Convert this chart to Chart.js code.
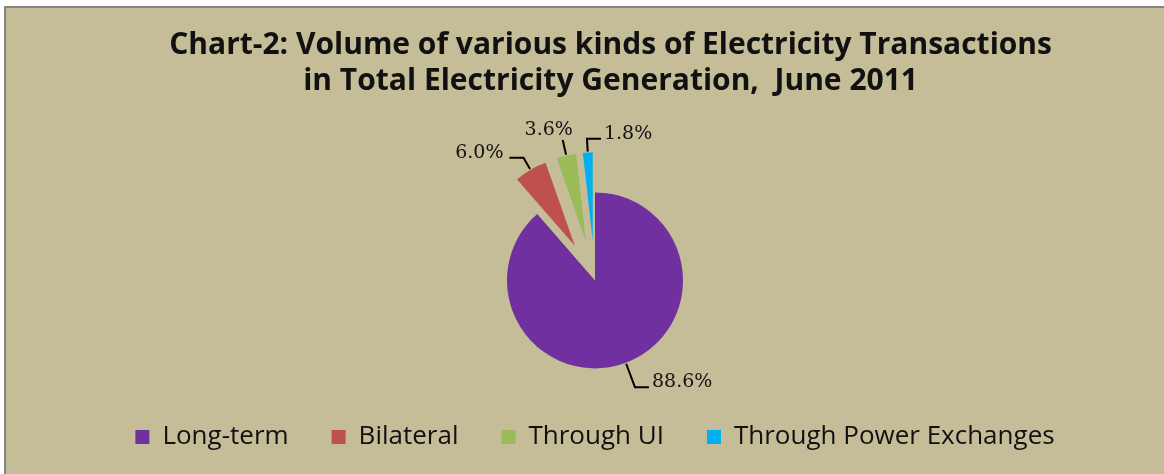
<!DOCTYPE html>
<html>
<head>
<meta charset="utf-8">
<title>Chart-2</title>
<script src="https://cdn.jsdelivr.net/npm/chart.js@4"></script>
<style>
  html, body { margin: 0; padding: 0; background: #fff; overflow: hidden; }
  #frame {
    position: absolute; left: 4px; top: 6px;
    width: 1158px; height: 466px;
    border-top: 2px solid #858585; border-left: 2px solid #858585;
    background: #C4BD97;
  }
  canvas { display: block; }
</style>
</head>
<body>
<div id="frame"><canvas id="chart" width="1158" height="466"></canvas></div>
<script>
const categories = ['Long-term', 'Bilateral', 'Through UI', 'Through Power Exchanges'];
const shares = [88.6, 6.0, 3.6, 1.8];
const sliceColors = ['#7030A0', '#C0504D', '#9BBB59', '#00B0F0'];
// leading spaces nudge the title right of the pie, as in the original
const titleLines = [
  '    Chart-2: Volume of various kinds of Electricity Transactions',
  '    in Total Electricity Generation,  June 2011'
];

// pulls slices out along their bisector without Chart.js growing them
const explodePlugin = {
  id: 'explode',
  afterDatasetsUpdate(chart, args, opts) {
    const meta = chart.getDatasetMeta(0);
    meta.data.forEach((arc, i) => {
      const d = opts.distance[i] || 0;
      if (!d) return;
      const mid = (arc.startAngle + arc.endAngle) / 2;
      arc.x += Math.cos(mid) * d;
      arc.y += Math.sin(mid) * d;
    });
  }
};

// percentage labels with elbow leader lines
const labelPlugin = {
  id: 'sliceLabels',
  afterDatasetsDraw(chart, args, opts) {
    const ctx = chart.ctx;
    const meta = chart.getDatasetMeta(0);
    ctx.save();
    ctx.strokeStyle = '#000';
    ctx.lineWidth = 2;
    ctx.fillStyle = '#111';
    ctx.font = opts.font;
    meta.data.forEach((arc, i) => {
      const lead = opts.leaders[i];
      const mid = (arc.startAngle + arc.endAngle) / 2;
      const dx = Math.cos(mid), dy = Math.sin(mid);
      const r = arc.outerRadius;
      const x0 = arc.x + dx * (r + 1), y0 = arc.y + dy * (r + 1);
      const x1 = arc.x + dx * (r + lead.len), y1 = arc.y + dy * (r + lead.len);
      const text = shares[i].toFixed(1) + '%';
      ctx.beginPath();
      ctx.moveTo(x0, y0);
      ctx.lineTo(x1, y1);
      if (lead.side === 'up') {
        ctx.stroke();
        ctx.textAlign = 'center';
        ctx.textBaseline = 'bottom';
        ctx.fillText(text, x1 - 14, y1 - 1);
      } else {
        const s = lead.side === 'right' ? 1 : -1;
        ctx.lineTo(x1 + s * lead.h, y1);
        ctx.stroke();
        ctx.textAlign = s > 0 ? 'left' : 'right';
        ctx.textBaseline = 'middle';
        ctx.fillText(text, x1 + s * (lead.h + lead.gap), y1 - 5);
      }
    });
    ctx.restore();
  }
};

new Chart(document.getElementById('chart'), {
  type: 'pie',
  data: {
    labels: categories,
    datasets: [{
      data: shares,
      backgroundColor: sliceColors,
      borderWidth: 0,
      radius: 88
    }]
  },
  options: {
    responsive: false,
    animation: false,
    layout: { padding: { left: 20, right: 0, top: 0, bottom: 14 } },
    plugins: {
      title: {
        display: true,
        text: titleLines,
        color: '#111',
        font: { family: 'Open Sans', size: 30, weight: 'bold', lineHeight: 1.18 },
        padding: { top: 20, bottom: 81 }
      },
      legend: {
        position: 'bottom',
        labels: {
          boxWidth: 14,
          boxHeight: 14,
          padding: 43,
          color: '#111',
          font: { family: 'Open Sans', size: 26 }
        }
      },
      tooltip: { enabled: false },
      explode: { distance: [0, 40, 40, 40] },
      sliceLabels: {
        font: '19px "DejaVu Serif"',
        leaders: [
          { len: 26, side: 'right', h: 14, gap: 3 },
          { len: 14, side: 'left', h: 14, gap: 6 },
          { len: 16, side: 'up' },
          { len: 14, side: 'right', h: 14, gap: 3 }
        ]
      }
    }
  },
  plugins: [explodePlugin, labelPlugin]
});
</script>
</body>
</html>
